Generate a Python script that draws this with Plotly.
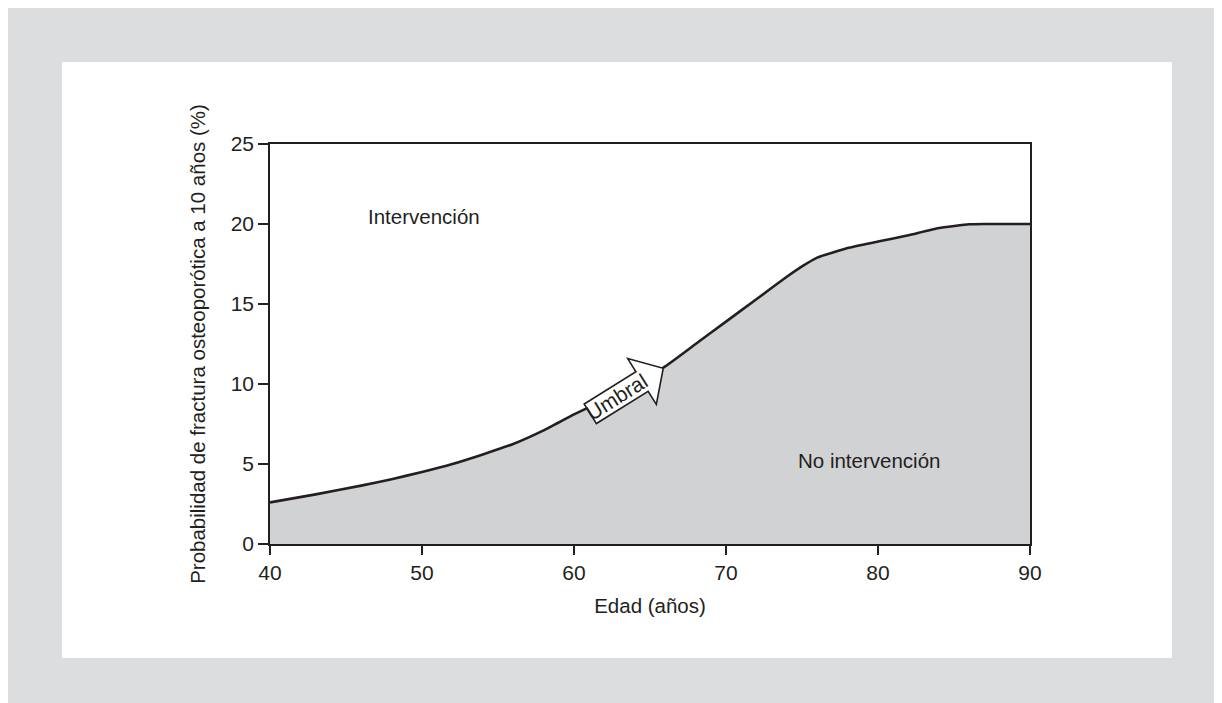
import math
import plotly.graph_objects as go

# Data
edad = [40, 43, 46, 48, 50, 52, 54, 56, 58, 60, 62, 64, 66, 68, 70, 72, 74, 75, 76, 78, 80, 82, 84, 86, 87, 90]
umbral = [2.6, 3.1, 3.65, 4.05, 4.5, 5.0, 5.6, 6.25, 7.1, 8.1, 9.0, 10.0, 11.1, 12.5, 13.9, 15.3, 16.7, 17.35, 17.9, 18.5, 18.9, 19.3, 19.75, 19.98, 20.0, 20.0]
x_ticks = [40, 50, 60, 70, 80, 90]
y_ticks = [0, 5, 10, 15, 20, 25]

W, H = 1222, 703
OFF = 8  # page body margin
L, R, T, B = 270 - OFF, 1030 - OFF, 144 - OFF, 544 - OFF  # plot area in figure pixels

FONT = "Liberation Sans, Arial, sans-serif"
FS = 20.5
INK = "#231f20"


def px2paper(px, py):
    # px, py given in screen pixels of the reference
    px -= OFF
    py -= OFF
    return (px - L) / (R - L), (B - py) / (B - T)


fig = go.Figure()
fig.add_trace(go.Scatter(
    x=edad, y=umbral, mode="lines", fill="tozeroy",
    fillcolor="#d1d2d4", line=dict(color=INK, width=2.6, shape="spline", smoothing=0.4),
    hoverinfo="skip", showlegend=False,
))

shapes = []
# inner white panel
x0, y0 = px2paper(62, 658)
x1, y1 = px2paper(1172, 62)
shapes.append(dict(type="rect", xref="paper", yref="paper", x0=x0, y0=y0, x1=x1, y1=y1,
                   fillcolor="white", line=dict(width=0), layer="below"))

# "Umbral" arrow (decoration)
ang = math.radians(32)
ux, uy = math.cos(ang), -math.sin(ang)
nx, ny = math.sin(ang), math.cos(ang)
tx, ty = 590.3, 413.8
shaft, head, hw, hh = 61, 25, 11.5, 27
local = [(0, -hw), (shaft, -hw), (shaft, -hh), (shaft + head, 0), (shaft, hh), (shaft, hw), (0, hw)]
pts = []
for a, b in local:
    px = tx + a * ux + b * nx
    py = ty + a * uy + b * ny
    pts.append(px2paper(px, py))
path = "M " + " L ".join(f"{p[0]:.5f},{p[1]:.5f}" for p in pts) + " Z"
shapes.append(dict(type="path", xref="paper", yref="paper", path=path,
                   fillcolor="white", line=dict(color=INK, width=1.6), layer="above"))

cx, cy = px2paper(tx + 32 * ux, ty + 32 * uy)

annotations = [
    dict(x=50.13, y=20.44, xref="x", yref="y", text="Intervención", showarrow=False,
         font=dict(family=FONT, size=FS, color=INK)),
    dict(x=79.4, y=5.19, xref="x", yref="y", text="No intervención", showarrow=False,
         font=dict(family=FONT, size=FS, color=INK)),
    dict(x=cx, y=cy, xref="paper", yref="paper", text="Umbral", showarrow=False,
         textangle=-32, font=dict(family=FONT, size=21, color=INK)),
]

axis_common = dict(showline=True, linecolor=INK, linewidth=1.5, mirror=True,
                   showgrid=False, zeroline=False, ticks="outside", tickcolor=INK,
                   tickwidth=1.5, tickfont=dict(family=FONT, size=21, color=INK))

fig.update_layout(
    width=W, height=H,
    margin=dict(l=L, r=W - R, t=T, b=H - B),
    paper_bgcolor="#dcdddf", plot_bgcolor="white",
    shapes=shapes, annotations=annotations,
    xaxis=dict(range=[40, 90], tickvals=x_ticks, ticklen=9,
               title=dict(text="Edad (años)", font=dict(family=FONT, size=FS, color=INK), standoff=16),
               **axis_common),
    yaxis=dict(range=[0, 25], tickvals=y_ticks, ticklen=10,
               title=dict(text="Probabilidad de fractura osteoporótica a 10 años (%)",
                          font=dict(family=FONT, size=FS, color=INK), standoff=20),
               **axis_common),
)

fig.write_html("out.html")
